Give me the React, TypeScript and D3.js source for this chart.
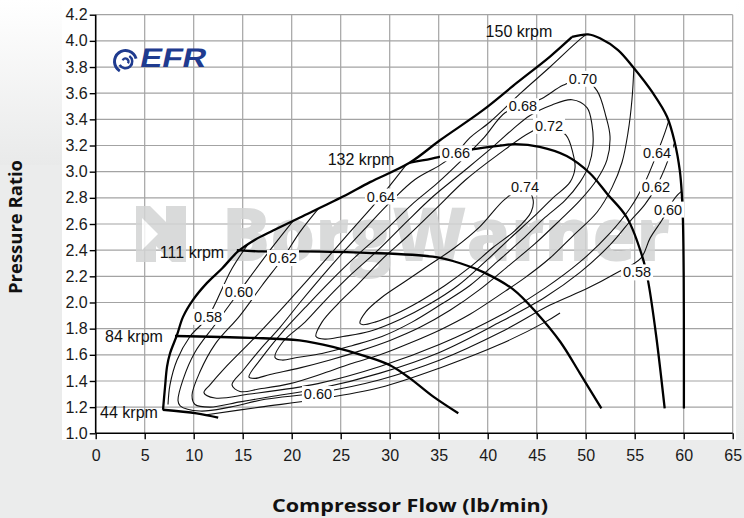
import { useEffect, useRef } from 'react';
import * as d3 from 'd3';

type Pt = [number, number];

const xTicks = [0, 5, 10, 15, 20, 25, 30, 35, 40, 45, 50, 55, 60, 65];
const yTicks = [1.0, 1.2, 1.4, 1.6, 1.8, 2.0, 2.2, 2.4, 2.6, 2.8, 3.0, 3.2, 3.4, 3.6, 3.8, 4.0, 4.2];

// surge line, bottom (44 krpm) to top (150 krpm)
const surge: Pt[] = [
  [6.87, 1.18], [7.07, 1.35], [7.28, 1.51], [7.58, 1.61], [8.29, 1.75], [8.91, 1.89], [9.93, 2.02],
  [11.36, 2.15], [12.89, 2.26], [14.52, 2.39], [16.26, 2.48], [18.1, 2.55], [20.85, 2.65], [25.23, 2.81],
  [27.99, 2.92], [32.07, 3.07], [35.13, 3.24], [39.52, 3.47], [42.99, 3.68], [46.36, 3.88], [48.61, 4.03]
];

const speed150: Pt[] = [
  [48.61, 4.03], [50.24, 4.05], [51.46, 4.02], [53.3, 3.93], [54.83, 3.8], [56.87, 3.6], [58.3, 3.42],
  [59.1, 3.22], [59.6, 3.01], [59.8, 2.84], [59.92, 2.63], [60.0, 2.2], [60.02, 1.6], [60.02, 1.19]
];
const speed132: Pt[] = [
  [32.07, 3.07], [34.3, 3.1], [38.4, 3.17], [41.3, 3.2], [42.8, 3.21], [45.3, 3.19], [48.06, 3.12],
  [50.4, 2.99], [52.2, 2.83], [54.2, 2.65], [55.86, 2.33], [56.4, 2.15], [57.2, 1.74], [58.06, 1.19]
];
const speed111: Pt[] = [
  [14.4, 2.4], [17, 2.39], [21, 2.39], [27.6, 2.38], [34.4, 2.35], [37.2, 2.3], [39.6, 2.23],
  [42.6, 2.1], [45, 1.92], [47.4, 1.7], [49.4, 1.46], [51.6, 1.19]
];
const speed84: Pt[] = [
  [8.09, 1.744], [15.8, 1.73], [20.8, 1.71], [24.2, 1.66], [27.65, 1.586], [30.03, 1.52],
  [32.07, 1.42], [34.45, 1.28], [37.0, 1.153]
];
const speed44: Pt[] = [[6.84, 1.18], [10.3, 1.153], [12.5, 1.12]];

const speedLabels = [
  { text: '150 krpm', x: 43.19, y: 4.07 },
  { text: '132 krpm', x: 27.07, y: 3.09 },
  { text: '111 krpm', x: 9.83, y: 2.38 },
  { text: '84 krpm', x: 3.91, y: 1.74 },
  { text: '44 krpm', x: 3.4, y: 1.16 }
];

// efficiency islands
const eff58Upper: Pt[] = [[16.26, 2.52], [13.91, 2.26], [11.46, 1.89], [9.62, 1.74], [8.3, 1.56], [7.58, 1.37], [7.38, 1.22]];
const eff58Lower: Pt[] = [[10.23, 1.13], [11.15, 1.14], [16.77, 1.2], [22.68, 1.26], [29.01, 1.35], [35.13, 1.5], [41.26, 1.68], [45.85, 1.85], [47.38, 1.92]];
const eff60: Pt[] = [
  [20.44, 2.65], [17.79, 2.4], [14.62, 2.08], [12.17, 1.83], [10.13, 1.62], [8.91, 1.41], [8.4, 1.25],
  [8.62, 1.21], [10.64, 1.17], [13.7, 1.2], [17.28, 1.26], [22.68, 1.31], [29.01, 1.41], [35.13, 1.56],
  [41.26, 1.77], [46.36, 1.98], [50.23, 2.11], [52.99, 2.22], [55.64, 2.34], [56.56, 2.49], [57.79, 2.63],
  [58.4, 2.71], [59.22, 2.81], [61.05, 2.92]
];
const eff62: Pt[] = [
  [23.09, 2.75], [20.85, 2.54], [19.11, 2.34], [16.97, 2.13], [14.72, 1.9], [12.17, 1.68], [10.64, 1.47],
  [9.83, 1.29], [10.13, 1.22], [11.66, 1.2], [14.72, 1.24], [17.79, 1.28], [22.68, 1.34], [29.01, 1.46],
  [35.13, 1.62], [41.26, 1.85], [45.85, 2.04], [49.42, 2.23], [52.48, 2.44], [54.52, 2.62], [56.05, 2.75],
  [57.17, 2.88], [57.99, 3.01], [58.81, 3.17], [59.62, 3.32]
];
const eff64: Pt[] = [
  [32.07, 3.09], [29.11, 2.81], [25.95, 2.54], [22.68, 2.26], [19.32, 1.98], [15.95, 1.71], [13.19, 1.5],
  [11.66, 1.37], [11.05, 1.31], [12.17, 1.27], [15.74, 1.3], [22.68, 1.38], [29.01, 1.51], [35.13, 1.68],
  [41.26, 1.9], [45.85, 2.11], [49.42, 2.31], [52.48, 2.53], [54.52, 2.72], [56.05, 2.92], [57.28, 3.14],
  [58.09, 3.3], [58.81, 3.47]
];
const eff66: Pt[] = [
  [51.46, 4.12], [49.72, 4.03], [46.36, 3.8], [43.5, 3.61], [40.23, 3.38], [38.19, 3.26], [36.76, 3.14],
  [35.13, 3.05], [32.58, 2.94], [30.23, 2.78], [27.79, 2.59], [25.44, 2.4], [23.09, 2.2], [20.85, 2.0],
  [18.81, 1.81], [16.77, 1.64], [15.03, 1.48], [13.91, 1.37], [14.72, 1.32], [16.77, 1.34], [19.83, 1.38],
  [22.89, 1.45], [25.95, 1.53], [29.01, 1.6], [32.07, 1.69], [35.13, 1.79], [38.19, 1.91], [41.26, 2.06],
  [43.81, 2.19], [46.36, 2.34], [48.7, 2.51], [51.15, 2.69], [52.69, 2.88], [53.7, 3.07], [54.32, 3.3],
  [54.72, 3.55], [54.93, 3.82]
];
const eff68: Pt[] = [
  [15.64, 1.43], [16.97, 1.58], [19.01, 1.77], [21.36, 1.96], [23.91, 2.16], [26.66, 2.36], [29.52, 2.55],
  [32.28, 2.75], [34.83, 2.91], [37.38, 3.09], [39.62, 3.26], [41.77, 3.45], [43.6, 3.5], [45.54, 3.56],
  [47.68, 3.66], [49.72, 3.71], [51.15, 3.62], [52.07, 3.42], [52.48, 3.27], [52.17, 3.09], [51.15, 2.94],
  [49.42, 2.78], [47.38, 2.63], [44.83, 2.45], [42.28, 2.29], [39.21, 2.1], [36.15, 1.94], [33.09, 1.81],
  [30.03, 1.71], [26.97, 1.63], [23.91, 1.56], [20.85, 1.5], [17.79, 1.45], [16.26, 1.42]
];
const eff70: Pt[] = [
  [18.3, 1.58], [19.11, 1.7], [21.36, 1.85], [23.6, 2.03], [26.15, 2.22], [28.81, 2.4], [31.77, 2.62],
  [34.42, 2.81], [37.17, 2.98], [40.23, 3.17], [42.48, 3.32], [44.32, 3.43], [46.56, 3.51], [48.6, 3.55],
  [50.13, 3.49], [50.64, 3.36], [50.74, 3.2], [50.33, 3.05], [49.42, 2.92], [47.89, 2.78], [45.85, 2.65],
  [43.5, 2.48], [40.95, 2.31], [38.19, 2.13], [35.33, 1.99], [32.28, 1.85], [29.21, 1.74], [26.15, 1.67],
  [23.09, 1.61], [20.54, 1.58], [19.01, 1.56]
];
const eff72: Pt[] = [
  [22.48, 1.74], [23.09, 1.85], [24.72, 1.99], [26.77, 2.14], [29.21, 2.33], [31.87, 2.51], [34.62, 2.71],
  [37.79, 2.94], [41.05, 3.13], [44.32, 3.3], [46.26, 3.35], [47.99, 3.28], [48.7, 3.14], [48.91, 3.03],
  [48.4, 2.92], [46.66, 2.8], [44.62, 2.65], [42.28, 2.49], [39.72, 2.31], [36.97, 2.13], [34.11, 1.99],
  [31.05, 1.87], [27.99, 1.78], [25.23, 1.74], [23.4, 1.72]
];
const eff74: Pt[] = [
  [26.97, 1.84], [27.58, 1.93], [29.21, 2.04], [31.56, 2.16], [34.11, 2.29], [36.66, 2.42], [39.21, 2.58],
  [41.77, 2.79], [43.81, 2.88], [44.62, 2.79], [44.42, 2.69], [42.79, 2.55], [40.54, 2.42], [38.19, 2.27],
  [35.64, 2.13], [33.09, 2.01], [30.54, 1.91], [28.5, 1.85], [27.28, 1.83]
];

const effLabels = [
  { text: '0.58', x: 11.46, y: 1.89 },
  { text: '0.60', x: 14.62, y: 2.08 },
  { text: '0.62', x: 19.11, y: 2.34 },
  { text: '0.64', x: 29.11, y: 2.81 },
  { text: '0.66', x: 36.76, y: 3.14 },
  { text: '0.68', x: 43.6, y: 3.5 },
  { text: '0.70', x: 49.72, y: 3.71 },
  { text: '0.72', x: 46.26, y: 3.35 },
  { text: '0.74', x: 43.81, y: 2.88 },
  { text: '0.64', x: 57.28, y: 3.14 },
  { text: '0.62', x: 57.17, y: 2.88 },
  { text: '0.60', x: 58.4, y: 2.71 },
  { text: '0.58', x: 55.24, y: 2.23 },
  { text: '0.60', x: 22.68, y: 1.3 }
];

const W = 744;
const H = 518;

export default function App() {
  const ref = useRef<SVGSVGElement | null>(null);

  useEffect(() => {
    if (!ref.current) return;
    const svg = d3.select(ref.current);
    svg.selectAll('*').remove();

    const x = d3.scaleLinear().domain([0, 65]).range([95.7, 732.7]);
    const y = d3.scaleLinear().domain([1, 4.2]).range([433.3, 14.7]);
    const [x0, x1] = x.range();
    const [y0, y1] = y.range();

    const defs = svg.append('defs');
    const fade = defs.append('linearGradient').attr('id', 'leftFade').attr('x1', 0).attr('y1', 0).attr('x2', 0).attr('y2', 1);
    fade.append('stop').attr('offset', '0%').attr('stop-color', '#ffffff');
    fade.append('stop').attr('offset', '100%').attr('stop-color', '#e9eaea');

    // background
    svg.append('rect').attr('width', W).attr('height', H).attr('fill', '#ebecec');
    svg.append('rect').attr('x', 62).attr('y', 0).attr('width', W - 62).attr('height', 440).attr('fill', '#ffffff');
    svg.append('rect').attr('x', 0).attr('y', 0).attr('width', 62).attr('height', 165).attr('fill', 'url(#leftFade)');
    svg.append('rect').attr('x', 736).attr('y', 0).attr('width', 8).attr('height', 440).attr('fill', 'url(#leftFade)');

    // grid
    const grid = svg.append('g').attr('stroke', '#a3a3a3').attr('stroke-width', 1.2);
    xTicks.slice(1).forEach((t) => {
      grid.append('line').attr('x1', x(t)).attr('x2', x(t)).attr('y1', y0).attr('y2', y1);
    });
    yTicks.slice(1).forEach((t) => {
      grid.append('line').attr('x1', x0).attr('x2', x1).attr('y1', y(t)).attr('y2', y(t));
    });

    // BorgWarner watermark
    const wm = svg.append('g').attr('fill', '#d3d4d4').attr('opacity', 0.85);
    wm.append('text')
      .attr('x', 222)
      .attr('y', 261)
      .attr('textLength', 448)
      .attr('lengthAdjust', 'spacingAndGlyphs')
      .style('font-family', 'Open Sans, sans-serif')
      .style('font-weight', 800)
      .style('font-size', '74px')
      .text('BorgWarner');
    const logo = wm.append('g').attr('transform', 'translate(136,206)');
    logo.append('path').attr('d', 'M0,0 H14 L30,16 V0 H50 V56 H36 L20,40 V56 H0 Z');
    logo.append('path').attr('d', 'M6,12 L22,28 L6,44 Z').attr('fill', '#ffffff');

    // EFR logo
    const efr = svg.append('g').attr('fill', '#1f3b8f');
    const sw = efr.append('g').attr('transform', 'translate(125.5,61.5)');
    const arc = d3.arc<{ r0: number; r1: number; a0: number; a1: number }>()
      .innerRadius((d) => d.r0)
      .outerRadius((d) => d.r1)
      .startAngle((d) => d.a0)
      .endAngle((d) => d.a1);
    [
      { r0: 9.5, r1: 12.5, a0: -2.6, a1: 1.3 },
      { r0: 5.5, r1: 8, a0: 0.6, a1: 4.2 },
      { r0: 1.8, r1: 4.2, a0: -1.2, a1: 2.2 }
    ].forEach((d) => sw.append('path').attr('d', arc(d) as string));
    efr.append('text')
      .attr('x', 139)
      .attr('y', 67)
      .attr('textLength', 66)
      .attr('lengthAdjust', 'spacingAndGlyphs')
      .attr('transform', 'skewX(-12) translate(14,0)')
      .style('font-family', 'Liberation Sans, Arial, sans-serif')
      .style('font-weight', 700)
      .style('font-size', '27px')
      .text('EFR');

    // axes
    const yAxis = d3.axisLeft(y).tickValues(yTicks).tickSize(6).tickPadding(2).tickFormat(d3.format('.1f'));
    const xAxis = d3.axisBottom(x).tickValues(xTicks).tickSize(6).tickPadding(10).tickFormat(d3.format('d'));
    const gy = svg.append('g').attr('transform', `translate(${x0},0)`).call(yAxis);
    const gx = svg.append('g').attr('transform', `translate(0,${y0})`).call(xAxis);
    [gx, gy].forEach((g) => {
      g.select('.domain').attr('stroke', '#000').attr('stroke-width', 1.6);
      g.selectAll('.tick line').attr('stroke', '#000').attr('stroke-width', 1.4);
      g.selectAll('.tick text')
        .attr('fill', '#1a1a1a')
        .style('font-family', 'Liberation Sans, Arial, sans-serif')
        .style('font-size', '16px');
    });
    gy.select('.domain').attr('d', `M0,${y1}V${y0}`);
    gx.select('.domain').attr('d', `M${x0},0H${x1}`);

    // axis titles
    svg.append('text')
      .attr('transform', `translate(22,227) rotate(-90)`)
      .attr('text-anchor', 'middle')
      .attr('textLength', 134)
      .attr('lengthAdjust', 'spacingAndGlyphs')
      .style('font-family', 'Open Sans, sans-serif')
      .style('font-weight', 700)
      .style('font-size', '18px')
      .attr('fill', '#111')
      .text('Pressure Ratio');
    svg.append('text')
      .attr('x', 410)
      .attr('y', 512)
      .attr('text-anchor', 'middle')
      .attr('textLength', 276)
      .attr('lengthAdjust', 'spacingAndGlyphs')
      .style('font-family', 'Open Sans, sans-serif')
      .style('font-weight', 700)
      .style('font-size', '18px')
      .attr('fill', '#111')
      .text('Compressor Flow (lb/min)');

    const line = d3.line<Pt>().x((d) => x(d[0])).y((d) => y(d[1])).curve(d3.curveCatmullRom.alpha(0.5));
    const loop = d3.line<Pt>().x((d) => x(d[0])).y((d) => y(d[1])).curve(d3.curveCatmullRomClosed.alpha(0.5));

    // map boundary used to clip efficiency lines
    const boundary: Pt[] = [...surge, ...speed150.slice(1), [60.02, 1.05], [12.5, 1.05], [12.5, 1.12], [10.3, 1.153]];
    defs.append('clipPath').attr('id', 'mapClip')
      .append('path')
      .attr('d', d3.line<Pt>().x((d) => x(d[0])).y((d) => y(d[1])).curve(d3.curveLinearClosed)(boundary) as string);

    const eff = svg.append('g').attr('clip-path', 'url(#mapClip)').attr('fill', 'none').attr('stroke', '#111').attr('stroke-width', 1.1);
    [eff58Upper, eff58Lower, eff60, eff62, eff64, eff66].forEach((d) => eff.append('path').attr('d', line(d) as string));
    [eff68, eff70, eff72, eff74].forEach((d) => eff.append('path').attr('d', loop(d) as string));

    // speed lines
    const spd = svg.append('g').attr('fill', 'none').attr('stroke', '#000').attr('stroke-width', 2.3).attr('stroke-linejoin', 'round');
    [surge, speed150, speed132, speed111, speed84, speed44].forEach((d) => spd.append('path').attr('d', line(d) as string));

    speedLabels.forEach((l) => {
      svg.append('text')
        .attr('x', x(l.x))
        .attr('y', y(l.y))
        .attr('text-anchor', 'middle')
        .attr('dominant-baseline', 'central')
        .style('font-family', 'Liberation Sans, Arial, sans-serif')
        .style('font-size', '16px')
        .attr('fill', '#111')
        .text(l.text);
    });

    effLabels.forEach((l) => {
      const g = svg.append('g').attr('transform', `translate(${x(l.x)},${y(l.y)})`);
      g.append('rect').attr('x', -16).attr('y', -8).attr('width', 32).attr('height', 16).attr('fill', '#fff');
      g.append('text')
        .attr('text-anchor', 'middle')
        .attr('dominant-baseline', 'central')
        .style('font-family', 'Liberation Sans, Arial, sans-serif')
        .style('font-size', '14.5px')
        .attr('fill', '#111')
        .text(l.text);
    });
  }, []);

  return (
    <svg
      ref={ref}
      width={W}
      height={H}
      style={{ position: 'absolute', left: 0, top: 0, display: 'block' }}
    />
  );
}
